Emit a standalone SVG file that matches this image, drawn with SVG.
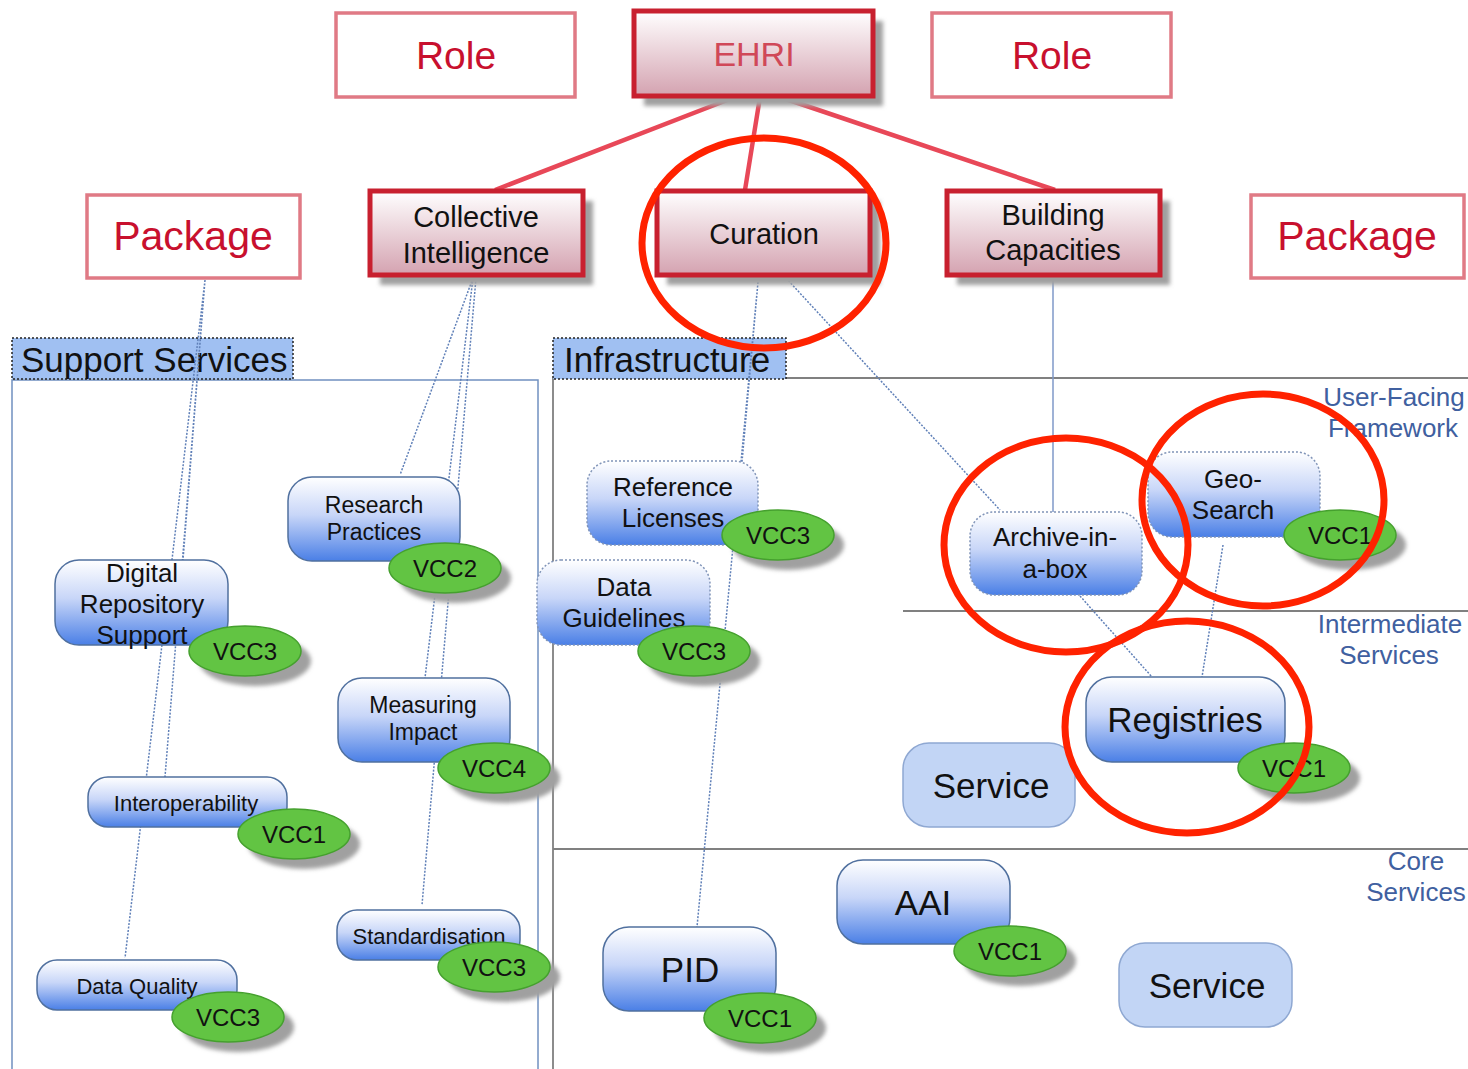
<svg xmlns="http://www.w3.org/2000/svg" width="1468" height="1069" viewBox="0 0 1468 1069">
<defs>
<linearGradient id="gRed" x1="0" y1="0" x2="0" y2="1">
<stop offset="0" stop-color="#ffffff"/><stop offset="1" stop-color="#d4a2b0"/>
</linearGradient>
<linearGradient id="gBlue" x1="0" y1="0" x2="0" y2="1">
<stop offset="0" stop-color="#ffffff"/><stop offset="0.45" stop-color="#c8d6f8"/><stop offset="1" stop-color="#4a7fe6"/>
</linearGradient>
<filter id="blur" x="-20%" y="-20%" width="140%" height="140%"><feGaussianBlur stdDeviation="2"/></filter>
</defs>
<style>
text{font-family:"Liberation Sans",Arial,sans-serif;text-anchor:middle}
.role{fill:#fff;stroke:#e07a85;stroke-width:3.5}
.roleT{fill:#c8102e;font-size:39px}
.main{fill:url(#gRed);stroke:#c8202f;stroke-width:5}
.shadow{fill:#a0a0a0;filter:url(#blur)}
.mainT{fill:#111;font-size:29px}
.bn{fill:url(#gBlue);stroke:#50709f;stroke-width:1.5}
.bnd{fill:url(#gBlue);stroke:#8094b8;stroke-width:1.5;stroke-dasharray:2 2}
.ln{fill:#c2d5f5;stroke:#8fa8d2;stroke-width:1.5}
.t{fill:#111}
.vcc{fill:#62c443;stroke:#45a02e;stroke-width:1.5}
.vccT{fill:#111;font-size:24px}
.sec{fill:#a0c0f2;stroke:#222;stroke-width:1.5;stroke-dasharray:2 2}
.secT{fill:#111;font-size:35px;text-anchor:start}
.lay{fill:#4060a0;font-size:26px}
.red{fill:none;stroke:#e84858;stroke-width:4.5}
.dot{fill:none;stroke:#6080b8;stroke-width:1.5;stroke-dasharray:2 1.5}
.sol{fill:none;stroke:#7f98c8;stroke-width:1.5}
.ann{fill:none;stroke:#ff2200;stroke-width:7}
</style>

<g id="frames">
<rect x="12" y="380" width="526" height="700" fill="none" stroke="#7090c0" stroke-width="1.5"/>
<path d="M553 378 H1468 M553 378 V1069 M903 611 H1468 M553 849 H1468" fill="none" stroke="#808080" stroke-width="1.8"/>
<g id="support-services"><rect class="sec" x="12" y="338" width="281" height="41"/><text class="secT" x="21" y="372">Support Services</text></g>
<g id="infrastructure"><rect class="sec" x="553" y="338" width="233" height="41"/><text class="secT" x="564" y="372">Infrastructure</text></g>
<g id="user-facing"><text class="lay" x="1394" y="406">User-Facing</text><text class="lay" x="1393" y="437">Framework</text></g>
<g id="intermediate"><text class="lay" x="1390" y="633">Intermediate</text><text class="lay" x="1389" y="664">Services</text></g>
<g id="core"><text class="lay" x="1416" y="870">Core</text><text class="lay" x="1416" y="901">Services</text></g>
</g>

<g id="connectors">
<path class="red" d="M735 97 L495 190 M760 97 L745 190 M780 97 L1055 190"/>
<path class="dot" d="M205 280 L183 560 M205 280 L165 777 M205 280 L125 958"/>
<path class="dot" d="M473 278 L400 475 M473 278 L425 678 M476 278 L422 905"/>
<path class="dot" d="M758 282 L742 462 M758 282 L697 927 M786 278 L1000 510 M1080 596 L1152 677 M1223 545 L1202 677"/>
<path class="sol" d="M1053 278 V512"/>
</g>

<g id="role-left"><rect class="role" x="336" y="13" width="239" height="84"/><text class="roleT" x="456" y="69">Role</text></g>
<g id="role-right"><rect class="role" x="932" y="13" width="239" height="84"/><text class="roleT" x="1052" y="69">Role</text></g>
<g id="package-left"><rect class="role" x="87" y="195" width="213" height="83"/><text class="roleT" x="193" y="250" style="font-size:41px">Package</text></g>
<g id="package-right"><rect class="role" x="1251" y="195" width="213" height="83"/><text class="roleT" x="1357" y="250" style="font-size:41px">Package</text></g>

<g id="ehri"><rect class="shadow" x="644" y="21" width="239" height="85"/><rect class="main" x="634" y="11" width="239" height="85"/><text x="754" y="66" style="font-size:34px;fill:#d04858">EHRI</text></g>
<g id="collective-intelligence"><rect class="shadow" x="380" y="201" width="213" height="84"/><rect class="main" x="370" y="191" width="213" height="84"/><text class="mainT" x="476" y="227">Collective</text><text class="mainT" x="476" y="263">Intelligence</text></g>
<g id="curation"><rect class="shadow" x="667" y="201" width="213" height="84"/><rect class="main" x="657" y="191" width="213" height="84"/><text class="mainT" x="764" y="244">Curation</text></g>
<g id="building-capacities"><rect class="shadow" x="957" y="201" width="213" height="84"/><rect class="main" x="947" y="191" width="213" height="84"/><text class="mainT" x="1053" y="225">Building</text><text class="mainT" x="1053" y="260">Capacities</text></g>

<g id="research-practices"><rect class="bn" x="288" y="477" width="172" height="84" rx="24"/><text class="t" x="374" y="513" style="font-size:23px">Research</text><text class="t" x="374" y="540" style="font-size:23px">Practices</text>
<ellipse class="shadow" cx="455" cy="578" rx="56" ry="25"/><ellipse class="vcc" cx="445" cy="568" rx="56" ry="25"/><text class="vccT" x="445" y="577">VCC2</text></g>
<g id="digital-repository-support"><rect class="bn" x="55" y="560" width="173" height="85" rx="24"/><text class="t" x="142" y="582" style="font-size:26px">Digital</text><text class="t" x="142" y="613" style="font-size:26px">Repository</text><text class="t" x="142" y="644" style="font-size:26px">Support</text>
<ellipse class="shadow" cx="255" cy="661" rx="56" ry="25"/><ellipse class="vcc" cx="245" cy="651" rx="56" ry="25"/><text class="vccT" x="245" y="660">VCC3</text></g>
<g id="measuring-impact"><rect class="bn" x="338" y="678" width="172" height="84" rx="24"/><text class="t" x="423" y="713" style="font-size:23px">Measuring</text><text class="t" x="423" y="740" style="font-size:23px">Impact</text>
<ellipse class="shadow" cx="504" cy="778" rx="56" ry="25"/><ellipse class="vcc" cx="494" cy="768" rx="56" ry="25"/><text class="vccT" x="494" y="777">VCC4</text></g>
<g id="interoperability"><rect class="bn" x="88" y="777" width="199" height="50" rx="20"/><text class="t" x="186" y="811" style="font-size:22px">Interoperability</text>
<ellipse class="shadow" cx="304" cy="844" rx="56" ry="25"/><ellipse class="vcc" cx="294" cy="834" rx="56" ry="25"/><text class="vccT" x="294" y="843">VCC1</text></g>
<g id="standardisation"><rect class="bn" x="337" y="910" width="183" height="50" rx="20"/><text class="t" x="429" y="944" style="font-size:22px">Standardisation</text>
<ellipse class="shadow" cx="504" cy="977" rx="56" ry="25"/><ellipse class="vcc" cx="494" cy="967" rx="56" ry="25"/><text class="vccT" x="494" y="976">VCC3</text></g>
<g id="data-quality"><rect class="bn" x="37" y="960" width="200" height="50" rx="20"/><text class="t" x="137" y="994" style="font-size:22px">Data Quality</text>
<ellipse class="shadow" cx="238" cy="1027" rx="56" ry="25"/><ellipse class="vcc" cx="228" cy="1017" rx="56" ry="25"/><text class="vccT" x="228" y="1026">VCC3</text></g>

<g id="reference-licenses"><rect class="bnd" x="587" y="461" width="171" height="84" rx="24"/><text class="t" x="673" y="496" style="font-size:26px">Reference</text><text class="t" x="673" y="527" style="font-size:26px">Licenses</text>
<ellipse class="shadow" cx="788" cy="545" rx="56" ry="25"/><ellipse class="vcc" cx="778" cy="535" rx="56" ry="25"/><text class="vccT" x="778" y="544">VCC3</text></g>
<g id="data-guidelines"><rect class="bnd" x="537" y="560" width="173" height="85" rx="24"/><text class="t" x="624" y="596" style="font-size:26px">Data</text><text class="t" x="624" y="627" style="font-size:26px">Guidelines</text>
<ellipse class="shadow" cx="704" cy="661" rx="56" ry="25"/><ellipse class="vcc" cx="694" cy="651" rx="56" ry="25"/><text class="vccT" x="694" y="660">VCC3</text></g>
<g id="archive-in-a-box"><rect class="bnd" x="970" y="512" width="172" height="83" rx="24"/><text class="t" x="1055" y="546" style="font-size:26px">Archive-in-</text><text class="t" x="1055" y="578" style="font-size:26px">a-box</text></g>
<g id="geo-search"><rect class="bnd" x="1148" y="452" width="172" height="85" rx="24"/><text class="t" x="1233" y="488" style="font-size:26px">Geo-</text><text class="t" x="1233" y="519" style="font-size:26px">Search</text>
<ellipse class="shadow" cx="1350" cy="545" rx="56" ry="25"/><ellipse class="vcc" cx="1340" cy="535" rx="56" ry="25"/><text class="vccT" x="1340" y="544">VCC1</text></g>
<g id="registries"><rect class="bn" x="1086" y="677" width="199" height="85" rx="26"/><text class="t" x="1185" y="732" style="font-size:35px">Registries</text>
<ellipse class="shadow" cx="1304" cy="778" rx="56" ry="25"/><ellipse class="vcc" cx="1294" cy="768" rx="56" ry="25"/><text class="vccT" x="1294" y="777">VCC1</text></g>
<g id="service-1"><rect class="ln" x="903" y="743" width="172" height="84" rx="26"/><text class="t" x="991" y="798" style="font-size:35px">Service</text></g>
<g id="aai"><rect class="bn" x="837" y="860" width="173" height="84" rx="26"/><text class="t" x="923" y="915" style="font-size:35px">AAI</text>
<ellipse class="shadow" cx="1020" cy="961" rx="56" ry="25"/><ellipse class="vcc" cx="1010" cy="951" rx="56" ry="25"/><text class="vccT" x="1010" y="960">VCC1</text></g>
<g id="pid"><rect class="bn" x="603" y="927" width="173" height="84" rx="26"/><text class="t" x="690" y="982" style="font-size:35px">PID</text>
<ellipse class="shadow" cx="770" cy="1028" rx="56" ry="25"/><ellipse class="vcc" cx="760" cy="1018" rx="56" ry="25"/><text class="vccT" x="760" y="1027">VCC1</text></g>
<g id="service-2"><rect class="ln" x="1119" y="943" width="173" height="84" rx="26"/><text class="t" x="1207" y="998" style="font-size:35px">Service</text></g>

<g id="annotations">
<ellipse class="ann" cx="764" cy="243" rx="122" ry="105"/>
<ellipse class="ann" cx="1066" cy="545" rx="122" ry="107"/>
<ellipse class="ann" cx="1263" cy="500" rx="121" ry="106"/>
<ellipse class="ann" cx="1187" cy="727" rx="122" ry="106"/>
</g>
</svg>
